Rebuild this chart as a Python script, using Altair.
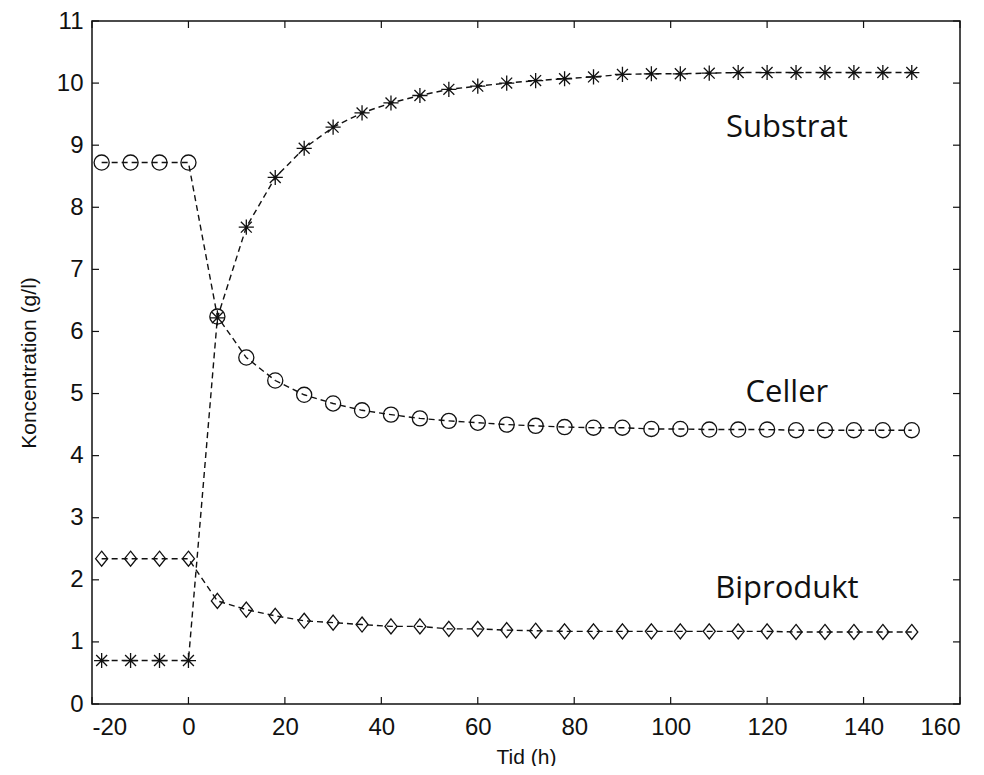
import altair as alt
import pandas as pd

# ---- data ----
time_h = [-18, -12, -6, 0, 6, 12, 18, 24, 30, 36, 42, 48, 54, 60, 66, 72, 78, 84,
          90, 96, 102, 108, 114, 120, 126, 132, 138, 144, 150]
substrat = [0.70, 0.70, 0.70, 0.70, 6.22, 7.68, 8.48, 8.95, 9.29, 9.52, 9.68, 9.80,
            9.90, 9.95, 10.00, 10.04, 10.07, 10.10, 10.14, 10.15, 10.15, 10.16,
            10.17, 10.17, 10.17, 10.17, 10.17, 10.17, 10.17]
celler = [8.72, 8.72, 8.72, 8.72, 6.24, 5.58, 5.21, 4.98, 4.84, 4.73, 4.66, 4.60,
          4.56, 4.53, 4.50, 4.48, 4.46, 4.45, 4.45, 4.43, 4.43, 4.42, 4.42, 4.42,
          4.41, 4.41, 4.41, 4.41, 4.41]
biprodukt = [2.34, 2.34, 2.34, 2.34, 1.66, 1.52, 1.42, 1.34, 1.31, 1.28, 1.25, 1.25,
             1.21, 1.21, 1.19, 1.18, 1.17, 1.17, 1.17, 1.17, 1.17, 1.17, 1.17, 1.17,
             1.16, 1.16, 1.16, 1.16, 1.16]

series_names = ["Substrat", "Celler", "Biprodukt"]

label_text = ["Substrat", "Celler", "Biprodukt"]
label_x = [124.1, 124.1, 124.1]
label_y = [9.13, 4.86, 1.71]

x_ticks = [-20, 0, 20, 40, 60, 80, 100, 120, 140, 160]
y_ticks = [0, 1, 2, 3, 4, 5, 6, 7, 8, 9, 10, 11]

# ---- tables ----
df = pd.DataFrame({"t": time_h, "Substrat": substrat, "Celler": celler, "Biprodukt": biprodukt})
long = df.melt(id_vars="t", var_name="series", value_name="c")
labels = pd.DataFrame({"text": label_text, "t": label_x, "c": label_y})
xt = pd.DataFrame({"t": x_ticks})
yt = pd.DataFrame({"c": y_ticks})

W, H = 868, 683
TL = 7

xscale = alt.Scale(domain=[-20, 160], nice=False, zero=False)
yscale = alt.Scale(domain=[0, 11], nice=False, zero=False)
xaxis = alt.Axis(values=x_ticks, title="Tid (h)", ticks=False, domain=False, grid=False,
                 labelPadding=11, titlePadding=7,
                 labelExpr="datum.value < 0 ? '-' + abs(datum.value) : '' + datum.value")
yaxis = alt.Axis(values=y_ticks, title="Koncentration (g/l)", ticks=False, domain=False,
                 grid=False, labelPadding=9, titlePadding=17)


def X():
    return alt.X("t:Q", scale=xscale, axis=xaxis)


def Y():
    return alt.Y("c:Q", scale=yscale, axis=yaxis)


star = "M-1,0L1,0M0,-1L0,1M-0.72,-0.72L0.72,0.72M-0.72,0.72L0.72,-0.72"
diamond = "M0,-1L0.8,0L0,1L-0.8,0Z"

lines = alt.Chart(long).mark_line(color="#111", strokeWidth=1.4, strokeDash=[6, 4]).encode(
    x=X(), y=Y(), detail="series:N"
)

points = alt.Chart(long).mark_point(filled=False, color="#111", strokeWidth=1.3, opacity=1).encode(
    x=X(), y=Y(),
    shape=alt.Shape("series:N", scale=alt.Scale(domain=series_names, range=[star, "circle", diamond]),
                    legend=None),
    size=alt.Size("series:N", scale=alt.Scale(domain=series_names, range=[230, 227, 400]),
                  legend=None),
)

texts = alt.Chart(labels).mark_text(font="Open Sans", fontSize=31, color="#111",
                                    align="center", baseline="alphabetic").encode(
    x=X(), y=Y(), text="text:N"
)

tick_style = dict(color="#111", strokeWidth=1.2)
ticks_bottom = alt.Chart(xt).mark_rule(**tick_style).encode(x=X(), y=alt.value(H), y2=alt.value(H - TL))
ticks_top = alt.Chart(xt).mark_rule(**tick_style).encode(x=X(), y=alt.value(0), y2=alt.value(TL))
ticks_left = alt.Chart(yt).mark_rule(**tick_style).encode(y=Y(), x=alt.value(0), x2=alt.value(TL))
ticks_right = alt.Chart(yt).mark_rule(**tick_style).encode(y=Y(), x=alt.value(W), x2=alt.value(W - TL))

chart = alt.layer(lines, points, texts, ticks_bottom, ticks_top, ticks_left, ticks_right).properties(
    width=W, height=H,
    autosize=alt.AutoSizeParams(type="none"),
    padding={"left": 84, "top": 13, "right": 16, "bottom": 62},
).configure_view(
    stroke="#111", strokeWidth=1.5
).configure_axis(
    labelFont="Liberation Sans", labelFontSize=24, labelColor="#111",
    titleFont="Liberation Sans", titleFontSize=21, titleFontWeight="normal", titleColor="#111",
)

chart.save("out.html", embed_options={"renderer": "svg", "actions": False})
